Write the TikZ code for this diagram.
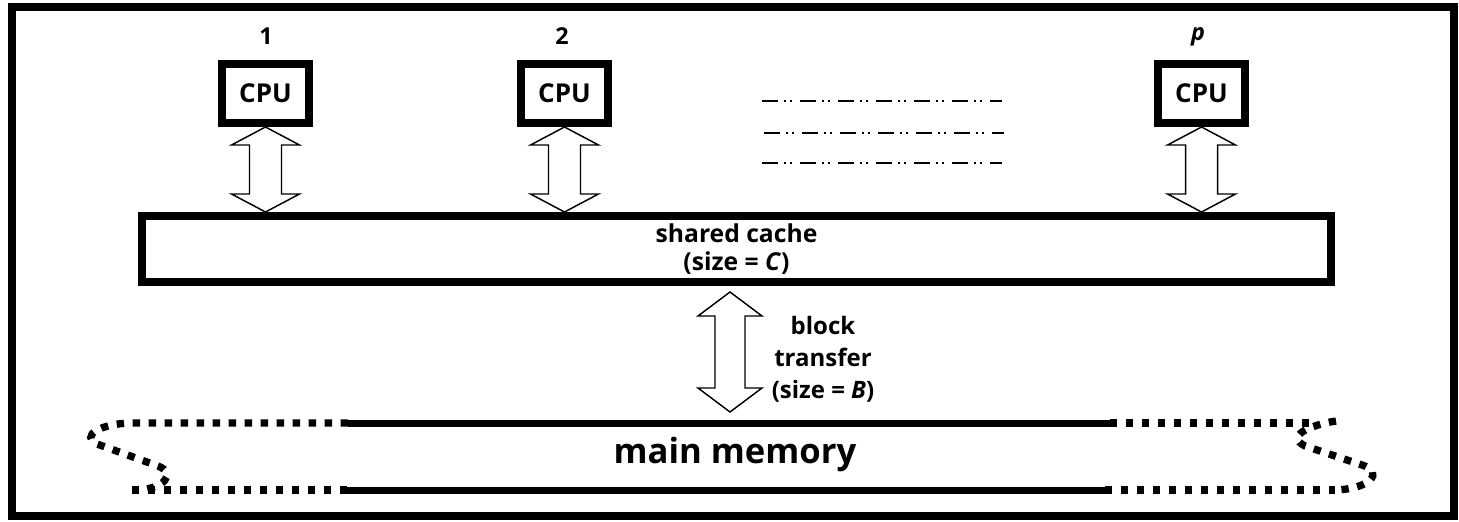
\documentclass[tikz,border=0pt]{standalone}
\usepackage{fontspec}
\setmainfont{Open Sans}
\usetikzlibrary{calc}

% double-headed hollow block arrow between two points on one vertical
% #1 top point, #2 bottom point, #3 head half-width, #4 shaft half-width, #5 head length (pt)
\newcommand\twowayarrow[5]{%
  \draw[blockarrow] let \p1=(#1), \p2=(#2) in
    (\x1,\y1) -- (\x1+#3pt,\y1-#5pt) -- (\x1+#4pt,\y1-#5pt) -- (\x1+#4pt,\y2+#5pt)
    -- (\x1+#3pt,\y2+#5pt) -- (\x1,\y2) -- (\x1-#3pt,\y2+#5pt) -- (\x1-#4pt,\y2+#5pt)
    -- (\x1-#4pt,\y1-#5pt) -- (\x1-#3pt,\y1-#5pt) -- cycle;}

\tikzset{
  cpubox/.style={draw, line width=6pt, minimum width=65.25pt, minimum height=44.25pt,
    inner sep=0pt, font=\fontsize{19.5}{21}\selectfont\bfseries},
  cachebox/.style={draw, line width=6pt, minimum width=891.75pt, minimum height=49.5pt,
    inner sep=0pt, align=center, font=\fontsize{18.5}{20.5}\selectfont\bfseries},
  proclabel/.style={inner sep=0pt, font=\fontsize{17.5}{20}\selectfont\bfseries},
  blockarrow/.style={draw, line width=1.1pt, fill=white, line join=miter},
  xferlabel/.style={inner sep=0pt, align=center, font=\fontsize{18}{24}\selectfont\bfseries},
  memlabel/.style={inner sep=0pt, font=\fontsize{26}{30}\selectfont\bfseries},
  dashdot3/.style={line width=1.8pt, dash pattern=on 12pt off 4.5pt on 1.2pt off 3.6pt on 1.2pt off 6pt},
  memsolid/.style={line width=5.25pt},
  memdotted/.style={line width=5.5pt, dash pattern=on 5.5pt off 6.5pt},
  frame/.style={line width=6pt},
}

\begin{document}
\begin{tikzpicture}[x=0.75pt, y=-0.75pt]
  \useasboundingbox (0,0) rectangle (1459,521);
  \draw[frame] (12,7) rectangle (1454,516);

  % processors
  \node[cpubox] (cpu1) at (265.5,93.5) {CPU};
  \node[cpubox] (cpu2) at (564.5,93.5) {CPU};
  \node[cpubox] (cpup) at (1201.5,93.5) {CPU};
  \node[proclabel] (l1) at (266,36) {1};
  \node[proclabel] (l2) at (562,36) {2};
  \node[proclabel] (lp) at (1198,37) {\itshape p};

  % further processors, elided
  \draw[dashdot3] (762,101) -- (1002,101);
  \draw[dashdot3] (764,133) -- (1004,133);
  \draw[dashdot3] (762,163) -- (1002,163);

  % shared cache
  \node[cachebox] (cache) at (736.5,249) {shared cache\\(size = \textit{C})};

  % processor <-> cache links
  \twowayarrow{cpu1.south}{cpu1.south |- cache.north}{25.5}{12}{13.5}
  \twowayarrow{cpu2.south}{cpu2.south |- cache.north}{25.5}{12}{13.5}
  \twowayarrow{cpup.south}{cpup.south |- cache.north}{25.5}{12}{13.5}

  % cache <-> memory block transfer
  \coordinate (xfertop) at (730,292);
  \coordinate (xferbot) at (730,412);
  \twowayarrow{xfertop}{xferbot}{24}{11.25}{18}
  \node[xferlabel] (xfer) at (823,359) {block\\transfer\\(size = \textit{B})};

  % main memory, drawn as a tape with torn ends
  \node[memlabel, anchor=base] (mem) at (735,463) {main memory};
  \draw[memsolid] (348,423) -- (1110,423);
  \draw[memsolid] (347,490) -- (1105,490);
  \draw[memdotted] (348,423) -- (130,423)
    .. controls (100,424) and (80,436) .. (97,444) -- (158,466)
    .. controls (178,474) and (162,489) .. (138,490);
  \draw[memdotted] (347,490) -- (128,490);
  \draw[memdotted] (1110,423) -- (1318,423);
  \draw[memdotted] (1336,421) .. controls (1310,425) and (1285,436) .. (1305,446)
    -- (1362,465) .. controls (1385,472) and (1370,489) .. (1335,490);
  \draw[memdotted] (1105,490) -- (1335,490);
\end{tikzpicture}
\end{document}
